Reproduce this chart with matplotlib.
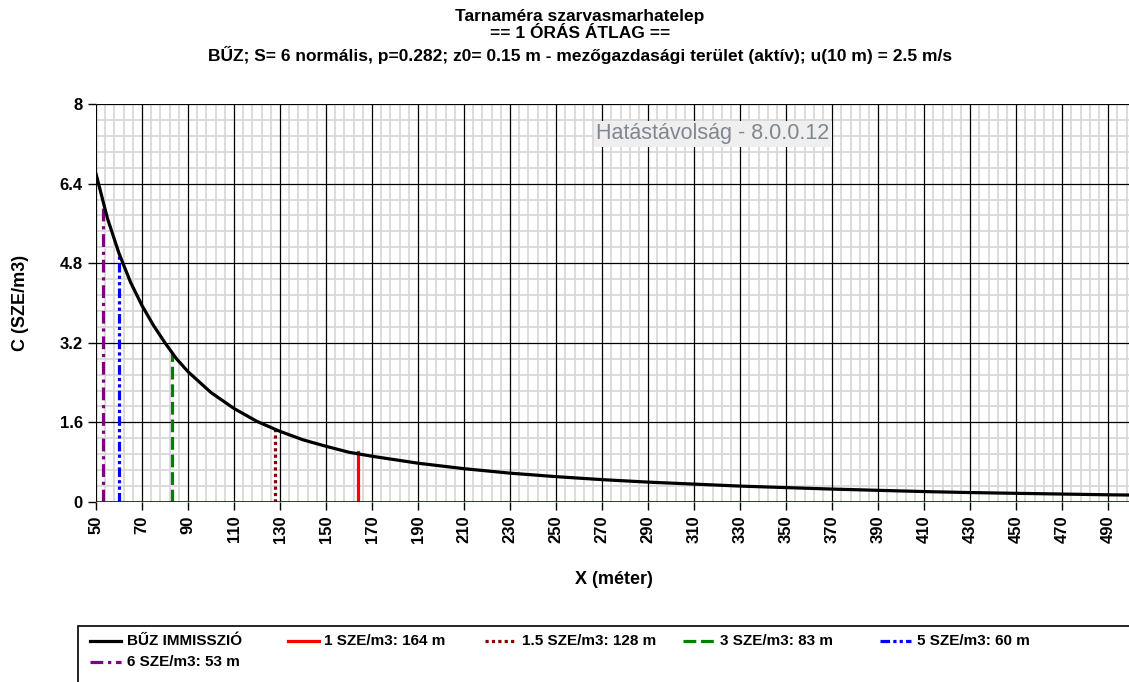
import numpy as np
import matplotlib.pyplot as plt
from matplotlib.ticker import FixedLocator
from matplotlib.patches import Rectangle
from matplotlib.lines import Line2D

plt.rcParams['font.family'] = ['Liberation Sans', 'DejaVu Sans']
plt.rcParams['font.weight'] = 'bold'

# curve
x = [50, 55, 60, 65, 70, 75, 80, 85, 90, 100, 110, 120, 130, 140, 150, 160, 170,
     190, 210, 230, 250, 270, 290, 310, 330, 350, 370, 390, 410, 430, 450, 470, 490, 500]
c = [6.6, 5.7, 5.0, 4.42, 3.95, 3.55, 3.2, 2.88, 2.62, 2.2, 1.88, 1.62, 1.42, 1.25, 1.12, 1.0, 0.92,
     0.78, 0.67, 0.58, 0.51, 0.45, 0.40, 0.36, 0.32, 0.29, 0.26, 0.235, 0.21, 0.19, 0.175, 0.16, 0.145, 0.14]

limits = ['1 SZE/m3: 164 m', '1.5 SZE/m3: 128 m', '3 SZE/m3: 83 m', '5 SZE/m3: 60 m', '6 SZE/m3: 53 m']
lim_x = [164, 128, 83, 60, 53]
lim_c = [1.0, 1.5, 3.0, 5.0, 6.0]
lim_col = ['#ff0000', '#8b0000', '#008000', '#0000ff', '#800080']
lim_ls = ['-', (0, (1, 1)), (0, (4, 1.5)), (0, (3, 1, 1, 1, 1, 1)), (0, (4, 1.5, 1, 1.5))]

xticks = np.arange(50, 500, 20)
yticks = [0, 1.6, 3.2, 4.8, 6.4, 8]
ytick_labels = ['0', '1.6', '3.2', '4.8', '6.4', '8']

W, H = 1129, 682
fig = plt.figure(figsize=(W / 100, H / 100), dpi=100)
ax = fig.add_axes([0.085, 0.2639, 0.917, 0.5836])

ax.plot(x, c, color='black', lw=2.3, zorder=5)
for xi, ci, col, ls in zip(lim_x, lim_c, lim_col, lim_ls):
    ax.plot([xi, xi], [0, ci], color=col, ls=ls, lw=2.3, zorder=4)
ax.axhline(0, color='#0000ff', lw=1.2, zorder=6)

ax.set_xlim(50, 500)
ax.set_ylim(0, 8)
ax.set_xticks(xticks)
ax.set_yticks(yticks)
ax.set_yticklabels(ytick_labels)
ax.xaxis.set_minor_locator(FixedLocator(np.arange(50, 501, 4)))
ax.yaxis.set_minor_locator(FixedLocator(np.linspace(0, 8, 26)))
ax.grid(which='minor', color='#d9d9d9', lw=1.3)
ax.set_axisbelow(True)
ax.vlines(xticks, 0, 8, color='black', lw=0.9, zorder=2)
ax.hlines(yticks, 50, 500, color='black', lw=0.9, zorder=2)
for s in ax.spines.values():
    s.set_visible(False)
ax.tick_params(which='minor', length=0)
ax.tick_params(which='major', length=6, width=1, labelsize=12)
ax.tick_params(axis='x', rotation=90)

ax.set_xlabel('X (méter)', fontsize=13, fontweight='bold', labelpad=20)
ax.set_ylabel('C (SZE/m3)', fontsize=13, fontweight='bold', labelpad=22)

titles = ['Tarnaméra szarvasmarhatelep', '== 1 ÓRÁS ÁTLAG ==',
          'BŰZ; S= 6 normális, p=0.282; z0= 0.15 m - mezőgazdasági terület (aktív); u(10 m) = 2.5 m/s']
for t, yp in zip(titles, [16, 34, 55]):
    fig.text(580 / W, 1 - yp / H, t, ha='center', va='center', fontsize=12.5, fontweight='bold')

ax.text(0.596, 0.925, 'Hatástávolság - 8.0.0.12', transform=ax.transAxes, ha='center', va='center',
        fontsize=15.5, fontweight='normal', color='#7f8790',
        bbox=dict(facecolor='#efefef', edgecolor='none', pad=2))

# legend, filled row by row with a fixed column pitch
leg_labels = ['BŰZ IMMISSZIÓ'] + limits
leg_cols = ['black'] + lim_col
leg_ls = ['-'] + lim_ls
fig.patches.append(Rectangle((78 / W, -0.05), 1.0, 1 - 626 / H + 0.05,
                             transform=fig.transFigure, fill=False, edgecolor='black', lw=1.2))
for i, (lab, col, ls) in enumerate(zip(leg_labels, leg_cols, leg_ls)):
    x0 = 90 + 197.5 * (i % 5)
    y0 = 641 + 21 * (i // 5)
    fig.lines.append(Line2D([x0 / W, (x0 + 31) / W], [1 - y0 / H] * 2, transform=fig.transFigure,
                            color=col, ls=ls, lw=2.3))
    fig.text((x0 + 37) / W, 1 - y0 / H, lab, ha='left', va='center',
             fontsize=11, fontweight='bold')

fig.savefig('out.png', dpi=100)
